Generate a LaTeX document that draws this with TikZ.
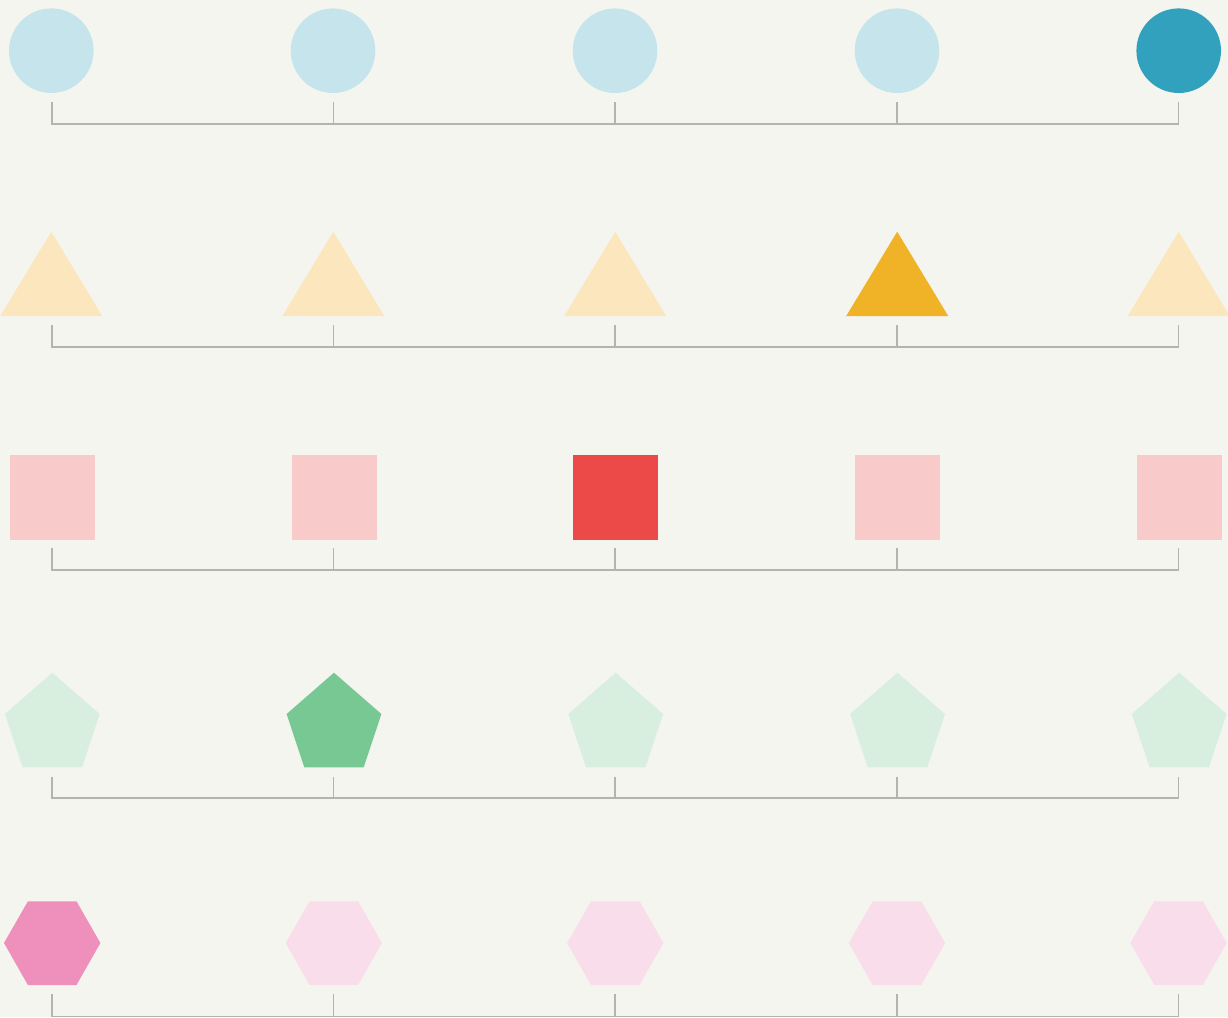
\documentclass[tikz,border=0pt]{standalone}
\definecolor{bg}{HTML}{F5F5F0}
\definecolor{linec}{HTML}{B3B3B0}
\definecolor{cirL}{HTML}{C6E4EC}
\definecolor{cirD}{HTML}{31A1BD}
\definecolor{triL}{HTML}{FCE6BE}
\definecolor{triD}{HTML}{F0B226}
\definecolor{sqL}{HTML}{F9CACA}
\definecolor{sqD}{HTML}{EC4949}
\definecolor{penL}{HTML}{D8EEDF}
\definecolor{penD}{HTML}{78C893}
\definecolor{hexL}{HTML}{FADDEA}
\definecolor{hexD}{HTML}{EF8FBC}
\tikzset{bracket/.style={draw=linec, line width=1.5pt, line join=miter}}
\begin{document}
\begin{tikzpicture}[x=1pt,y=-1pt]
\fill[bg] (0,0) rectangle (1228,1017);
\useasboundingbox (0,0) rectangle (1228,1017);
% circles
\foreach \x/\c in {51.3/cirL,333/cirL,615/cirL,897/cirL,1178.7/cirD}
  \fill[\c] (\x,50.7) circle (42.3);
% triangles
\foreach \x/\c in {51.3/triL,333.3/triL,615.2/triL,897.2/triD,1178.7/triL}
  \fill[\c] (\x,231.7) -- (\x+51,316) -- (\x-51,316) -- cycle;
% squares
\foreach \x/\c in {52.5/sqL,334.3/sqL,615.5/sqD,897.5/sqL,1179.5/sqL}
  \fill[\c] (\x-42.5,455) rectangle (\x+42.5,540);
% pentagons
\foreach \x/\c in {52.3/penL,334/penD,615.7/penL,897.5/penL,1179.2/penL}
  \fill[\c] (\x,672.7) -- (\x+47.4,714) -- (\x+29.7,767.3) -- (\x-29.7,767.3) -- (\x-47.4,714) -- cycle;
% hexagons
\foreach \x/\c in {52.2/hexD,333.8/hexL,615.3/hexL,897/hexL,1178.5/hexL}
  \fill[\c] (\x-24.3,901.3) -- (\x+24.3,901.3) -- (\x+48.2,943) -- (\x+24.3,985) -- (\x-24.3,985) -- (\x-48.2,943) -- cycle;
% brackets
\foreach \r/\tp/\bt in {1/102/124, 2/325.3/347, 3/548/570, 4/776.7/798, 5/994.3/1016.3}{
  \foreach \i/\x in {1/51.8,2/333.3,3/615,4/896.8,5/1178.3}{
    \coordinate (t\r-\i) at (\x,\tp);
    \coordinate (b\r-\i) at (\x,\bt);
  }
  \draw[bracket] (t\r-1) -- (b\r-1) -- (b\r-5) -- (t\r-5);
  \foreach \i in {2,3,4}
    \draw[bracket] (t\r-\i) -- (b\r-\i);
}
\end{tikzpicture}
\end{document}
